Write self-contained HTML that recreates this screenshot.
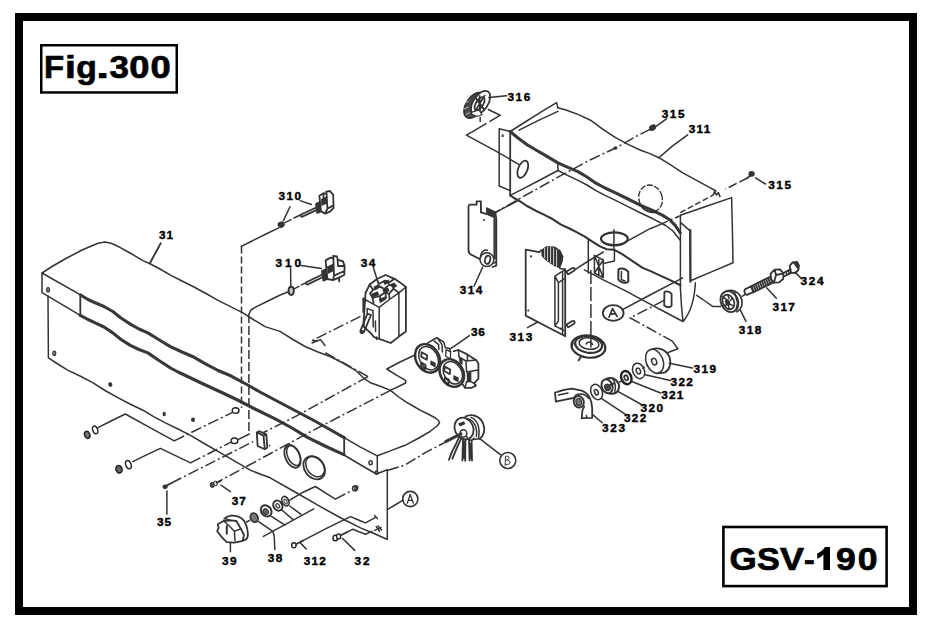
<!DOCTYPE html>
<html><head><meta charset="utf-8"><title>Fig.300 GSV-190</title>
<style>
html,body{margin:0;padding:0;background:#fff;}
body{width:938px;height:630px;overflow:hidden;position:relative;font-family:"Liberation Sans",sans-serif;}
svg{position:absolute;left:0;top:0;display:block;}
text{font-family:"Liberation Sans",sans-serif;font-weight:bold;fill:#000;}
.l{fill:none;stroke:#333;stroke-width:1.5;stroke-linecap:round;stroke-linejoin:round;}
.t{fill:none;stroke:#383838;stroke-width:3.1;stroke-linecap:round;stroke-linejoin:round;}
.m{fill:none;stroke:#333;stroke-width:1.8;stroke-linecap:round;stroke-linejoin:round;}
.d{fill:none;stroke:#333;stroke-width:1.5;stroke-dasharray:7 3;stroke-linecap:butt;}
.dd{fill:none;stroke:#333;stroke-width:1.5;stroke-dasharray:11 3 2 3;stroke-linecap:butt;}
.k{fill:#333;stroke:none;}
.w{fill:#fff;stroke:#333;stroke-width:1.5;}
.n{font-size:11.8px;}
</style></head><body>
<svg width="938" height="630" viewBox="0 0 938 630">
<!-- FRAME -->
<rect x="19" y="17" width="894" height="594" fill="none" stroke="#000" stroke-width="8"/>
<rect x="41.25" y="45.25" width="135.5" height="47.2" fill="#fff" stroke="#000" stroke-width="2.5"/>
<g id="tfig" stroke="#000" stroke-width="0.7">
<text transform="translate(44.02 78.00) scale(1.041 1)" font-size="31.6">F</text>
<text transform="translate(65.12 78.00) scale(1.240 1)" font-size="31.6">i</text>
<text transform="translate(76.14 78.00) scale(1.065 1)" font-size="31.6">g</text>
<text transform="translate(96.18 78.00) scale(1.460 1)" font-size="31.6">.</text>
<text transform="translate(109.40 78.00) scale(1.106 1)" font-size="31.6">3</text>
<text transform="translate(129.35 78.00) scale(1.150 1)" font-size="31.6">0</text>
<text transform="translate(150.45 78.00) scale(1.150 1)" font-size="31.6">0</text>
</g>
<rect x="723.4" y="527" width="163.2" height="59.1" fill="#fff" stroke="#000" stroke-width="2.6"/>
<g id="tgsv" stroke="#000" stroke-width="0.7">
<text transform="translate(729.60 570.00) scale(1.100 1)" font-size="31.8">G</text>
<text transform="translate(757.10 570.00) scale(1.075 1)" font-size="31.8">S</text>
<text transform="translate(780.00 570.00) scale(1.129 1)" font-size="31.8">V</text>
<text transform="translate(803.99 570.00) scale(1.011 1)" font-size="31.8">-</text>
<path d="M830,570 L823.4,570 L823.4,554.6 C821.6,556.6 819.4,558 817.2,558.8 L817.2,553.4 C820.6,552.2 823.6,549.8 824.8,547 L830,547 Z" fill="#000" stroke="none"/>
<text transform="translate(835.88 570.00) scale(1.119 1)" font-size="31.8">9</text>
<text transform="translate(857.78 570.00) scale(1.119 1)" font-size="31.8">0</text>
</g>

<!-- ===== BOX 31 ===== -->
<g id="box31">
<path class="l" d="M42,273 L52,266.5 L65,259 L82,250 L98,243.2 L105,242 L111,243.3 L118,246.3 L130,253 L143,260.6 L150.5,264 L160,269 L170.5,275.2 L182,281 L193,286.5 L206,293.5 L218,300.3 L231,306.8 L243,312.8 L254,320 L265,326.6 L280,331.4 L293,339.5 L305,346.5 L318,352 L330,356.5 L343,363 L355.5,370.3 L363,377.5 L370.5,382.8 L381,386.5 L390.5,390.4 L398,396.5 L405.5,401.6 L413,406 L420.5,410.4 L428,414 L435.5,418 L438.5,420.5 L439.5,423 L437,426 L430,431.5 L418,438.5 L405,445.3 L391,450.6 L377.3,455.8"/>
<path class="m" d="M160.7,243.3 L150,263"/>
<!-- left strip -->
<path class="l" d="M42,273 L42,292.7 L79,314.6 M42,273 L80.5,294.8"/>
<path class="m" d="M80.3,294.8 L80.3,315.2"/>
<path class="l" d="M48,296 L48.4,357.8 L57,363.5 L67.6,370.1 L80,376 L92.7,382.6 L105,390.5 L117.8,397.7 L130,404 L142.9,410.2 L154,416.8 L165.4,422.8 L178,429 L190.5,435.3 L205,444 L220.6,452.9 L236,461.8 L250.7,470.4 L260,474 L270.2,477.8 L295,492 L320.4,506.6 L340,517.5 L360.5,527.9 L374,533.5 L386.9,539.2"/>
<!-- thick waves -->
<path class="t" d="M80.6,295 L88,299.5 L95.2,302.8 L104,306.5 L112.8,311.5 L121,318 L130.3,324.1 L139,329 L147.9,332.9 L159,339.8 L170.4,346.7 L182,352 L193,356.7 L205,363.6 L218.1,370.5 L230.7,375.8 L245,383.5 L260,392 L275,400 L294,410 L313,420 L329,429 L344.2,437.6"/>
<path class="t" d="M80.2,315.3 L88,319.5 L95.2,322.8 L104,327 L112.8,332.9 L121,339.5 L130.3,345.4 L139,349.5 L147.9,352.9 L159,360.5 L170.5,368 L178,372 L185.5,375.5 L198,381.5 L212,388 L225,394 L237.6,400 L256,409.5 L275.2,418.8 L292,428 L307.9,437.6 L326,446.5 L343.8,454.6"/>
<path class="m" d="M344.2,437.6 L344.2,455"/>
<path class="l" d="M344.2,437.6 L360,446.8 L377.3,455.8 L377.3,473.5 M344,455 L360,464.5 L376.4,474 L387.3,469.8 L387.3,539.3"/>
<!-- holes in 31 -->
<ellipse cx="48.1" cy="289.8" rx="1.5" ry="2.3" fill="#888" stroke="#333" stroke-width="1.1"/><ellipse cx="54.3" cy="353.3" rx="1.5" ry="2.3" fill="#888" stroke="#333" stroke-width="1.1"/>
<ellipse class="k" cx="110.3" cy="384.6" rx="2" ry="2.3" transform="rotate(-30 110.3 384.6)"/><ellipse class="k" cx="164.2" cy="414" rx="1.6" ry="2.3"/><ellipse class="k" cx="193" cy="419.8" rx="2" ry="2.3"/>
<ellipse class="l" cx="370.6" cy="462.7" rx="1.6" ry="2"/><ellipse class="l" cx="376.6" cy="472.6" rx="1.3" ry="1.6"/>
<!-- round holes -->
<ellipse class="m" cx="292.5" cy="456.4" rx="7.2" ry="12" transform="rotate(-24 292.5 456.4)"/>
<ellipse class="l" cx="293.6" cy="455.4" rx="6" ry="10.6" transform="rotate(-24 293.6 455.4)"/>
<ellipse class="m" cx="314.2" cy="467.8" rx="9.6" ry="12.6" transform="rotate(-38 314.2 467.8)"/>
<ellipse class="l" cx="315.2" cy="466.6" rx="8.3" ry="11.2" transform="rotate(-38 315.2 466.6)"/>
<!-- bracket -->
<path class="m" d="M256.8,432.4 L263.5,435.6 L264.8,449.3 L257.6,446 Z M256.8,432.4 L259.5,431.2 L266.3,434.4 L263.5,435.6 M266.3,434.4 L267.3,447.6 L264.8,449.3"/>
<circle class="k" cx="269.6" cy="445.6" r="0.9"/>
</g>

<!-- ===== LEFT ASSEMBLY LINES ===== -->
<g id="leftlines">
<!-- dashed verticals -->
<path class="d" d="M241.5,246.5 L241.5,408"/>
<path class="d" d="M248.9,314 L248.9,434" style="stroke-dasharray:9 3"/>
<path class="l" d="M241.3,246.4 L250,242 L265,234.5 L278.8,227.9"/>
<path class="l" d="M248.9,314 L251,310 L255,307.4 L268,301 L280.2,295 L288.5,291.8"/>
<!-- washers upper (310) -->
<ellipse class="k" cx="281.2" cy="224.6" rx="3.6" ry="3.1" transform="rotate(-25 281.2 224.6)"/>
<path class="l" d="M284.9,222.6 L291,219.6 M294,218 L300.3,215"/>
<ellipse cx="291.2" cy="290.8" rx="2.6" ry="4.1" fill="#ccc" stroke="#333" stroke-width="2"/>
<path class="l" d="M294,288.9 L299,286.3 M301.5,284.9 L306,282.7"/>
<!-- dash-dot on top surface from breaker -->
<path class="dd" d="M360.4,316.4 L312.8,340.2"/>
<path class="l" d="M312,343 L320.5,339.6 L325,345.5 M318,341 L312.5,340.6"/>
<path class="dd" d="M325.3,352.7 L368,376.6"/>
<path class="dd" d="M368,376.6 L297.7,415.4 L262.6,433"/>
<path class="dd" d="M390.5,390.4 L312.8,430.5 L280.3,448.2 L219,481.3"/>
<path class="l" d="M414.4,355.2 L400,362 L386.8,369 L396,374.8 L405.6,380.3 L405.6,383 L390.5,390.4"/>
<!-- washers left 1 -->
<ellipse cx="87.2" cy="434.8" rx="2.6" ry="3.6" fill="#777" stroke="#222" stroke-width="1.5" transform="rotate(-20 87.2 434.8)"/>
<ellipse cx="95.2" cy="429.9" rx="2.4" ry="4" fill="#fff" stroke="#222" stroke-width="1.4" transform="rotate(-20 95.2 429.9)"/>
<path class="l" d="M98,427.7 L111,421 L125.3,414 L150,427.6 L174.2,440.8"/>
<path class="dd" d="M174.2,440.8 L232,412.6"/>
<ellipse cx="235.6" cy="410.6" rx="3.4" ry="2.8" fill="#fff" stroke="#222" stroke-width="1.4"/>
<!-- washers left 2 -->
<ellipse cx="119" cy="469.3" rx="3" ry="3.8" fill="#666" stroke="#222" stroke-width="1.6" transform="rotate(-20 119 469.3)"/>
<ellipse cx="128.4" cy="464.7" rx="2.6" ry="4.3" fill="#fff" stroke="#222" stroke-width="1.4" transform="rotate(-20 128.4 464.7)"/>
<path class="l" d="M132.8,461.6 L146,455.2 L160.4,448.4 L175,455.4 L190.5,462.9"/>
<path class="dd" d="M190.5,462.9 L231,442.2"/>
<ellipse cx="234.5" cy="440.8" rx="3.4" ry="2.8" fill="#fff" stroke="#222" stroke-width="1.4"/>
<path class="l" d="M238.5,439.3 L249.3,434 "/>
<!-- 35 -->
<ellipse class="k" cx="165.2" cy="486.8" rx="2.6" ry="2.3"/><path class="m" d="M166.5,485.6 L171.5,483"/>
<path class="dd" d="M171.5,483 L253.2,441.6"/>
<path class="l" d="M166.9,491 L166.9,514.3"/>
<!-- 37 -->
<ellipse cx="212.3" cy="484.9" rx="2.2" ry="2.5" fill="#555" stroke="#222" stroke-width="1"/><ellipse cx="215.6" cy="483.4" rx="1.8" ry="2.3" fill="#fff" stroke="#222" stroke-width="1"/>
<path class="m" d="M216.5,482.8 L220.8,480.6"/>
<path class="l" d="M221,485.2 L230.3,491.6"/>
<!-- A circle left -->
<circle class="m" cx="410.3" cy="499" r="7.6" style="stroke-width:1.6"/>
<path class="l" d="M402.7,500.4 L395,505 L388.1,509.1"/>
<path class="l" d="M407.3,503.2 L410.2,494.4 L413.4,503.2 M408.4,500.4 L412.4,500.4" style="stroke-width:1.3"/>
<!-- plate-to-key dashdot -->
<path class="dd" d="M388,470.3 L405.2,465 L425.3,452.6 L444.6,442.6"/>
<!-- 38 washers -->
<ellipse cx="254.2" cy="517.6" rx="3.7" ry="4.7" fill="#777" stroke="#333" stroke-width="1.7" transform="rotate(-25 254.2 517.6)"/>
<path class="l" d="M246.6,522 L249.6,520.4"/>
<ellipse cx="266.2" cy="510.9" rx="4.9" ry="6" fill="#fff" stroke="#333" stroke-width="2" transform="rotate(-40 266.2 510.9)"/><ellipse cx="265.8" cy="511.6" rx="2.4" ry="3" fill="#666" stroke="#333" stroke-width="1.2" transform="rotate(-40 265.8 511.6)"/>
<ellipse cx="277.8" cy="505.6" rx="4.3" ry="5.3" fill="#fff" stroke="#333" stroke-width="2" transform="rotate(-30 277.8 505.6)"/><ellipse class="l" cx="277.8" cy="505.8" rx="1.6" ry="2.3" transform="rotate(-30 277.8 505.8)" style="stroke-width:1.2"/>
<ellipse cx="285.4" cy="501.2" rx="3.3" ry="5" fill="#fff" stroke="#333" stroke-width="1.7" transform="rotate(-25 285.4 501.2)"/><ellipse class="l" cx="285.6" cy="501.6" rx="1.3" ry="2.6" transform="rotate(-25 285.6 501.6)" style="stroke-width:1"/>
<path class="l" d="M258.6,521.6 L266,526.6 L273,531.6 L274.2,536 L274.8,549.4 M271.4,516.4 L285,525.2 M281.8,510 L293,519.6 M289.8,506 L301,514.4"/>
<path class="l" d="M263.4,536.4 L290,521.8 L313.8,508.8"/>
<path class="l" d="M289.6,500.2 L302,492.8 L315.4,486.5 L325,492.6 L335.4,499.1"/>
<path class="dd" d="M335.4,499.1 L352,490.4"/>
<ellipse class="l" cx="354.8" cy="488.4" rx="2.2" ry="2.4"/><ellipse class="l" cx="356.3" cy="487.8" rx="1.4" ry="2"/>
<!-- 39 knob -->
<path class="m" d="M224.2,518.8 C227,515.6 234,514 240.8,517.8 C245,520.6 247.4,526 247.9,533.8 C248,536.6 247,538.6 245.9,539.5"/>
<path class="m" d="M223.6,521 L217.8,524.2 L218.6,527.6 L217.2,531.2 L219.4,534 L221.6,537 L224.4,539.8 L226.8,542.1 L234.4,542.7 L242.7,540.8 L244,535 L240.8,528.7 L236.4,521 L230.6,520.4 Z"/>
<path class="l" d="M223.6,521 L227.4,524.2 L234.4,531.2 L240.8,528.9 M234.4,531.2 L235,540.8 M242.7,540.8 L245.9,539.5 M226,519 L230.6,520.4"/>
<path class="m" d="M226.8,526.1 L226.8,533.8" style="stroke-width:2"/>
<path class="l" d="M230.4,542.8 L230.4,551.8"/>
<!-- 312 -->
<ellipse cx="293.9" cy="545.3" rx="2.2" ry="2.6" fill="#fff" stroke="#222" stroke-width="1.4"/><path class="m" d="M296,544.2 L303,540.6"/>
<path class="l" d="M303,540.6 L325,529.2 L350.5,516.6 L358,519.8 L365.5,522.9 L376,517.2 M374.6,515.6 L377.4,518.6"/>
<path class="l" d="M300.8,543.4 L306.3,549"/>
<!-- 32 -->
<ellipse cx="335.3" cy="538" rx="2.3" ry="2.8" fill="#fff" stroke="#222" stroke-width="1.4"/><ellipse cx="338.6" cy="536.4" rx="2" ry="2.6" fill="#fff" stroke="#222" stroke-width="1.3"/><path class="m" d="M340.6,535.4 L347,532.2"/>
<path class="l" d="M347,532.2 L353,529.2 L359,531.8 L365.5,534.2 L372,531.4 M374.6,530.4 L381,527.6 M376.2,526.6 L379.5,531.2 M378,526 L381.5,530"/>
<path class="l" d="M342.3,538.2 L354.8,550.4"/>
</g>

<!-- ===== 310 SWITCHES ===== -->
<g id="sw310">
<!-- upper -->
<path class="m" d="M301.6,214.2 L316.8,207.2 M302.4,216.6 L317.4,209.6 M301.6,214.2 C300,215 300.8,217.2 302.4,216.6"/>
<path class="m" d="M316,204 L320,201.8 L321,211.4 L317.2,213 Z M320,201.8 L319.4,195.8 L323.4,193.2 L326.6,194 L326.2,191.6 L330,191 L333.2,194.8 L333.6,207.8 L330,211.6 L325,213.6 L321,211.4 M326.6,194 L327.4,208.6 L325,213.6 M327.4,208.6 L333.6,205.4 M323.4,193.2 L323.6,198.6 L327,197.6"/>
<path class="k" d="M316,204 L320,201.8 L321,211.4 L317.2,213 Z M321,199 L326.8,196.4 L327.2,203.6 L321.4,206 Z"/>
<path class="l" d="M300.1,200.6 L311.3,204.5 M290,206.8 L283.4,220.6"/>
<!-- lower -->
<path class="m" d="M306.8,282 L323,274.2 M307.8,284.4 L323.6,276.8 M306.8,282 C305.2,282.8 306,285.2 307.8,284.4"/>
<path class="m" d="M322,271 L326.4,269 L327.4,279 L323.4,280.6 Z M326.4,269 L325.6,260.4 L330.6,257.6 L333.4,258.6 L333.2,256 L337,256.4 L337.6,259.6 L343,261.4 L344.6,266 L344.4,274.8 L339,277.6 L333,280.2 L327.4,279 M333.4,258.6 L334,275.6 L333,280.2 M334,275.6 L344.4,271 M337.6,259.6 L338,266 L344.6,266 M339,277.6 L339.2,281.4"/>
<path class="k" d="M322,271 L326.4,269 L327.4,279 L323.4,280.6 Z M327,266.6 L333.6,263.6 L334,271 L327.6,274 Z"/>
<path class="l" d="M301.1,265.6 L321.4,268.6 M290.6,268 L290.8,286.6"/>
</g>
<!-- ===== 34 BREAKER ===== -->
<g id="p34">
<path class="m" d="M363.3,298.5 L363.3,312 M363.6,322 L364,327 L371,333.4 L374.1,337.2 L379.2,338.8 L390.7,343 L398.9,336.6 L405.9,331.5 L405.9,287 L400,282.4 L394.5,278.8 L385.6,275 L377,279 L369.7,284.5 L365.5,293 Z"/>
<path class="l" d="M398.9,292.8 L398.9,336.6 M379.2,307.4 L379.2,338.8 M363.3,298.5 L372,303.4 L379.2,307.4 L390,299 L398.9,292.8 L405.9,287"/>
<!-- top details -->
<path class="m" d="M369.7,284.5 L373,290 L370,293.6 L372.6,298 L380,296 L385.4,292 L389,294 L393.4,288.6 L398.9,292.8 M373,290 L379.6,286.4 L384.4,289 L389.4,284.6 L394.4,286.6 M377,279 L378.6,284 L385,280.6 L388.4,283 L394.5,278.8 M372.6,298 L373.6,303 M380,296 L380.6,301.6 L386,298 L385.4,292 M389,294 L389.6,299"/>
<path class="k" d="M373.6,286.8 L379,284 L380.4,287.2 L375,290.4 Z M383,281.6 L388.4,279.4 L390,282.4 L384.6,285 Z M371.4,293.8 L377.6,291.2 L379.4,295 L373,297.4 Z M382.4,289.8 L388,287.4 L389.6,291 L384,293.4 Z M389.6,284.6 L394,282.6 L397.4,286 L393,288.4 Z M379,299 L385,296.4 L385.4,300 L380,303 Z"/>
<!-- toggle -->
<path class="l" d="M367.2,308.6 L373,310.6 L373.2,327 M367.2,308.6 L367.2,313"/>
<path class="m" d="M367.4,313.6 L371,315 L364,331.8 L360.6,330.4 Z M360.6,330.4 C359.6,333 363,334.4 364,331.8"/>
<path class="l" d="M375.4,321 L375.6,331.6 M376.6,337 L376.6,339.6"/>
<path class="l" d="M373.5,268 L377.3,280"/>
</g>
<!-- ===== 36 OUTLETS ===== -->
<g id="p36">
<!-- back body -->
<path class="l" d="M427,343.4 L432.8,339.8 L437.2,337.8 L443.8,342.2 L445.4,347.6 L449.4,348.6 L450.6,352 M437.2,337.8 L442,344.6 L442.4,352 M432.8,339.8 L438.6,344.6 L438.8,349.6"/>
<path class="m" d="M453.8,351.2 L458.4,350 L467.2,354.4 L476,360 L478.4,363.4 L478.4,378.8 L474,383.2 L476,385.6 L471.6,387.8 L465,387.8 L462.4,384"/>
<path class="l" d="M458.4,350 L459,357 L466,361 L476,360 M466,361 L466.6,372 L478.4,370 M467.2,354.4 L467.6,360.6 M470.6,372 L470.6,381.6 L474,383.2 M465,387.8 L466.6,381.6 L470.6,381.6 M441.6,365 L446,361 M439.4,371 L441.4,374.6"/>
<path d="M446,349.6 L450.6,352 L450.4,358.8 L445.6,356.2 Z" fill="#fff" stroke="#333" stroke-width="1.3"/>
<path class="k" d="M466.6,372.6 L470.4,372 L470.6,381.6 L467,382.6 Z M459,357.4 L462.6,359.4 L462.6,365 L459.4,363 Z"/>
<!-- faces -->
<ellipse cx="427.6" cy="358.4" rx="11.6" ry="15" fill="#fff" stroke="#333" stroke-width="2.4" transform="rotate(-30 427.6 358.4)"/>
<ellipse class="l" cx="428.6" cy="358.2" rx="9" ry="12.4" transform="rotate(-30 428.6 358.2)"/>
<path class="m" d="M421.6,352.2 L427.2,355.2 L426.8,359.8 L421.2,356.6 Z M421.4,362.6 L425.6,365 L425.2,369.2 L421,366.6 Z"/>
<path d="M430.6,360.2 L435.8,363 L435.4,367.8 L430.2,364.6 Z" class="k"/>
<ellipse cx="451.8" cy="373" rx="11.4" ry="14.6" fill="#fff" stroke="#333" stroke-width="2.4" transform="rotate(-30 451.8 373)"/>
<ellipse class="l" cx="452.8" cy="372.8" rx="8.8" ry="12" transform="rotate(-30 452.8 372.8)"/>
<path class="m" d="M444.8,366.6 L450.2,369.6 L449.8,374.2 L444.4,371 Z M445,377.4 L449,379.8 L448.6,384 L444.6,381.4 Z"/>
<path d="M453.6,375 L458.8,377.8 L458.4,382.6 L453.2,379.4 Z" class="k"/>
<path class="l" d="M469.5,335.6 L458,343.6 L449.8,349.2"/>
</g>
<!-- ===== B KEY SWITCH ===== -->
<g id="keysw">
<path class="m" d="M465.4,416.6 C472,413.2 480.6,416.4 483.4,424.2 C485.4,430.2 483.6,436.2 479.6,438.8"/>
<ellipse class="m" cx="464" cy="428.6" rx="9.2" ry="11.2" transform="rotate(-25 464 428.6)"/>
<path class="l" d="M468,418.6 C474.4,420.6 477.6,428 476.4,436.4 M471,417.4 C477.6,420 480.2,428 478.6,437.4 M472.6,439.6 L479.6,438.8"/>
<ellipse class="l" cx="463.4" cy="433.4" rx="3.4" ry="3.6"/>
<path class="k" d="M458,423.6 L464,421.2 L465.4,424 L460,426.4 Z"/>
<!-- shaft -->
<path class="t" d="M445.6,441.6 L461,433.8" style="stroke-width:3"/>
<!-- keys -->
<path class="m" d="M459.4,436.4 L456,444 L451.6,452.6 L449,459.8 M461.6,437.6 L457,447.6 L452.4,458.6"/>
<path class="m" d="M463,438.6 L462.4,460.4 M465.4,439.4 L465.2,460.8 M464.2,442 L464,458"/>
<path class="m" d="M469,440 L469.6,460.4 M471.6,440.6 L472,460.6 M470.4,444 L470.6,458"/>
<path class="l" d="M466.4,436 C468,440.4 472,441.6 474,438"/>
<!-- B circle -->
<circle class="m" cx="507.8" cy="460.5" r="8" style="stroke-width:1.6"/>
<path class="l" d="M479.8,438.6 L490,446.6 L500.4,454.7"/>
<path class="l" d="M505.2,465.6 L505.4,456.4 C509.6,455 510.6,459.4 506.4,460 C511.6,460.4 511,465.4 506,464.4" style="stroke-width:1"/>
</g>

<!-- ===== BOX 311 ===== -->
<g id="box311">
<!-- left flange & end -->
<path class="l" d="M499.2,128.8 L499.2,186 L510.2,190.6 M499.2,128.8 L510.2,131.5"/>
<path class="m" d="M510.2,131.5 L510.2,195.4"/>
<rect class="k" x="501.6" y="134.4" width="2" height="2.6"/>
<!-- flap -->
<path class="l" d="M510.2,131.5 L522,124 L540,112.6 L556.6,102.6 L557.9,107.8 M519,130.2 L538,120.6 L557.9,111.4"/>
<!-- back edge -->
<path class="l" d="M557.9,107.8 L566,110 L578,114.4 L590.5,120.2 L603,129.4 L615.6,137.7 L628,144.4 L640.7,150.3 L650,153.6 L658.9,157.7 L671,165.2 L682.8,172.8 L697,180.6 L710.4,187.8 L716,191"/>
<!-- thick front wave -->
<path class="t" d="M510.2,131.5 L518,138 L527.8,145.2 L536,150 L545.3,155.3 L557.9,162.8 L568,167.4 L578,171.6 L587,177 L595.5,182.9 L605,188 L615.6,192.9 L628,199 L640.7,205.4 L652,210.2 L662.7,215.4 L670,220 L675.2,225.4 L680.3,233"/>
<path class="l" d="M557.9,162.8 L557.9,170.5 L568,175.6 L578,180.4 L587,185 L595.5,190.4 L605,195.4 L615.6,200.4 L628,206.6 L640.7,213 L653,218.8 L665.7,225.5 L673,231 L680,240"/>
<path class="l" d="M510.2,195.4 L522,189.4 L540,180 L557.9,170.5"/>
<ellipse class="m" cx="522.8" cy="169.2" rx="4.6" ry="9" transform="rotate(22 522.8 169.2)"/>
<!-- bottom front edge -->
<path class="m" style="stroke-width:2.1" d="M510.2,195.4 L514,198 L518.6,200.4 L527,206 L535.7,210.7 L544,214.6 L552.9,219.3 L561,224.6 L570,228.8 L577,232.4 L584.4,236.4 L592,241.4 L600,246.4 L606.7,249.2 L614.4,249.8 L622.2,254.2 L632.2,260.9 L642.2,267.6 L650,270.9 L660.3,275.6 L670.6,280.4 L680.4,285.3"/>
<!-- dashed ellipse hole -->
<ellipse cx="650.6" cy="198.4" rx="11.6" ry="13.6" fill="none" stroke="#2b2b2b" stroke-width="1.3" stroke-dasharray="6 1.5" transform="rotate(-20 650.6 198.4)"/>
<path class="m" d="M641,205 C643,210 650,213.6 656,211.8"/>
<!-- right end face -->
<path class="l" d="M680.4,215.3 L705,206.8 L731.6,197.6 L732.4,230 L733,262.7 L712,271.6 L691.7,280.3"/>
<path class="l" d="M680.4,215.3 L680.4,287.8 M680.4,222.4 L689.6,230.4"/>
<path class="t" d="M690.2,230.2 L690.4,281.5" style="stroke-width:2.4"/>
<path class="d" d="M680.2,212.6 L713,195.2" style="stroke-dasharray:6 2.5"/>
<path class="l" d="M713,195 L714.6,191.6 L716.4,195 L718.4,192.6 L720,196.6"/>
<!-- skirt -->
<path class="l" d="M680.4,287.8 L681.4,305 L682.9,320.6 M695.4,282.8 C694.6,298 691,312 683.2,321.4"/>
<!-- lower front face -->
<path class="l" d="M588.3,238.7 L588.3,273.1"/>
<path class="l" d="M584.4,269.8 L603.3,279.8 L625.6,290.9 L647.8,302.9 L665,312 L682.9,321.5"/>
<!-- tube -->
<ellipse class="m" cx="614.4" cy="238.7" rx="13.4" ry="6.3" style="stroke-width:2.1"/>
<path class="l" d="M602.6,241.6 C606,247 622,247.4 626.6,241.4"/>
<path class="l" d="M613.9,229.8 L613.9,248.6 M614.4,250 L614.4,261 L604.4,263.2"/>
<path class="l" d="M628.6,240.4 L650,228.7 L657.7,225.6"/>
<path class="dd" d="M657.7,225.6 L679.6,216"/>
<!-- rect openings -->
<path class="l" d="M594.4,255.3 L603.3,260 L603.3,277.6 L594.4,273 Z M594.4,255.3 L603.3,277.6 M603.3,260 L594.4,273 M598.8,257.6 L598.8,275.4"/>
<path class="m" style="stroke-width:2" d="M618.4,270 C619,267.6 625,267.8 628.2,271.6 L628.3,281.6 C626,284 620,282.4 618.3,279.6 Z"/>
<path class="l" d="M621.4,271.6 L621.4,279.6 L625,281"/>
<path class="m" d="M664.4,292 C666,290.6 670,291.6 671.6,294 L671.6,305.8 C670,308 666,307.6 664.2,305.4 Z"/>
<!-- dashed vertical down to cap -->
<path class="d" d="M590.9,270 L590.9,338" style="stroke-dasharray:14 3"/>
<!-- A circle -->
<ellipse class="m" cx="613.2" cy="313" rx="10.4" ry="7.8"/>
<path class="m" d="M609,317 L612.6,308.6 L617.2,316.6 M610.4,314.2 L615.6,313.6" style="stroke-width:1.7"/>
<path class="l" d="M623,309.4 L650,295 L682.6,277.8"/>
<!-- dashdot to 319 -->
<path class="dd" d="M664.1,300.4 L630.2,317.9 L655,331.6 L672.2,341.1"/>
<path class="l" d="M672.2,341.1 L677.9,348.8 L667.4,352.7"/>
<!-- 315 top and dashdot -->
<path class="dd" d="M490.2,215.5 L520,198.4 L557.9,177.2 L590,160 L615.6,148 L635,137 L650,129.4"/>
<ellipse class="k" cx="615.4" cy="148" rx="2" ry="1.8"/>
<ellipse class="k" cx="652.6" cy="127.6" rx="3.6" ry="3" transform="rotate(-30 652.6 127.6)"/><path class="m" d="M650,129.6 L654.6,125.4"/>
<path class="l" d="M656.4,126.2 L666.5,118.9"/>
<path class="l" d="M658.9,157.7 L672,146.4 L687.6,134.8"/>
<!-- 315 right -->
<ellipse class="k" cx="751.6" cy="173.8" rx="3.2" ry="2.9"/><path class="m" d="M747.4,178 L751,175"/>
<path class="d" d="M747.4,178 L725.4,189.1" style="stroke-dasharray:9 3"/>
<path class="l" d="M755.5,177.8 L765.5,184"/>
</g>
<!-- ===== 316 grommet ===== -->
<g id="p316">
<ellipse cx="474.4" cy="105.4" rx="8.4" ry="14.2" fill="#4a4a4a" stroke="#333" stroke-width="1.6" transform="rotate(33 474.4 105.4)"/>
<path d="M466,97 L470,95 M464.4,103 L468.6,101 M464,109 L468.4,107 M465.6,114.6 L470,112.4" stroke="#ddd" stroke-width="0.8" fill="none"/>
<ellipse cx="480.6" cy="102.8" rx="7.4" ry="13.4" fill="#fff" stroke="#333" stroke-width="1.8" transform="rotate(33 480.6 102.8)"/>
<ellipse class="m" cx="479.6" cy="103.6" rx="3.6" ry="7.4" transform="rotate(33 479.6 103.6)"/>
<path class="m" d="M475.4,97.6 L484,109.4 M484.6,95.6 L475,111.4 M479.6,96 L480,111"/>
<path d="M470.6,112.6 C473,116.4 478,117.4 482,114.6 L479,110 Z" fill="#fff" stroke="#333" stroke-width="1.2"/>
<path class="l" d="M488.9,97.6 L506.5,95.8"/>
<path class="l" d="M488.3,109.5 L500.2,115.2 L490,121.4 M486,123.6 L476,129.6 L466.4,135.2 L495,150.6 L519.6,164.8 M480.2,117.6 L480.2,121.4"/>
</g>
<!-- ===== 314 ===== -->
<g id="p314">
<path class="m" d="M468.5,207 C468.5,205 469.6,204.6 471,204.7 L476.6,204.7 L476.6,201.3 L480.9,201.3 L480.9,212.4 L486.9,214.2 L486.9,208.2 L495.4,212.4 L496.3,219.3 L496.3,265.6 L492.6,267 M468.5,207 L468.5,250.6 C468.5,253 469.6,254 471.4,254.8 L479.6,259"/>
<path class="t" d="M494.6,219 L494.6,258" style="stroke-width:2.4"/>
<path class="k" d="M487.4,209 L494.8,212.6 L495,218.6 L487.4,215.2 Z"/>
<circle class="k" cx="484" cy="220" r="1"/>
<circle class="w" cx="486.9" cy="259.6" r="6.9" style="stroke-width:1.5"/>
<ellipse class="m" cx="487.6" cy="259.8" rx="2.6" ry="4.2" transform="rotate(15 487.6 259.8)"/>
<path class="l" d="M480.6,256 C481,252 484,249.6 487.4,250.2 M492.6,263.6 L496,262"/>
<path class="l" d="M482.6,267.3 L474,286.2"/>
<path class="l" d="M495.4,212.4 L507,206.4 L518.6,200.4"/>
</g>
<!-- ===== 313 ===== -->
<g id="p313">
<path class="m" d="M525.7,249.6 L539.4,252.1 M525.7,249.6 L525.7,315.6 L545,325.8 L563.5,335.3 L565.2,336.2 L565.2,269.3"/>
<path class="l" d="M554.9,276.2 L554.9,325.9 L563.6,330.4 M554.9,276.2 L565,269.6 M554.9,276.2 L558.4,282.6 L558.4,321 L554.9,325.9 M558.4,282.6 L565,278.4 M562.6,272 L562.6,334"/>
<!-- coil -->
<path class="k" d="M541.2,250 L546,246.2 L555,246.6 L560.6,250.4 L563.4,256.6 L562.6,262 L560,268.6 L554,266 L546,260.6 L541.6,256 Z"/>
<path d="M544.6,248 L544.6,258 M547.6,247 L547.6,261 M550.6,247 L550.6,263 M553.6,247.6 L553.6,265 M556.6,249.6 L556.6,266.6" stroke="#fff" stroke-width="0.8" fill="none"/>
<path class="l" d="M539.4,252.1 L541.2,250 M560,268.6 L565.2,269.3"/>
<!-- hooks -->
<path class="m" d="M566.6,271.6 L572.4,268 C574.6,267.4 575.4,269.6 574,270.8 L568,274.4 Z"/>
<path class="m" d="M566.6,324.6 L572.4,321 C574.6,320.4 575.4,322.6 574,323.8 L568,327.4 Z"/>
<circle class="k" cx="530.9" cy="256.4" r="1.1"/><circle class="k" cx="528.3" cy="310.5" r="1.1"/><circle class="k" cx="560.9" cy="328.5" r="1"/>
<path class="l" d="M527.4,327.6 L536.9,322.5"/>
<path class="l" d="M575,269.6 L590,260 L603.3,252"/>
</g>

<!-- ===== 318 / 317 / 324 ===== -->
<g id="p318">
<path class="l" d="M696.7,295.3 L705,301 L713,306.6 L720.5,306.6"/>
<ellipse class="m" cx="729.4" cy="301.6" rx="8.6" ry="10.8" transform="rotate(-25 729.4 301.6)"/>
<path class="m" d="M726,291.4 C732,288.6 739.6,292 741.6,299 C743,304.6 741,309.6 737,311.8"/>
<ellipse class="m" cx="728.4" cy="302" rx="5.6" ry="7.6" transform="rotate(-25 728.4 302)"/>
<ellipse class="k" cx="727.6" cy="302.4" rx="2.4" ry="3.6" transform="rotate(-25 727.6 302.4)"/>
<path class="l" d="M722.6,297 L726,299 M723,305.6 L726.4,305 M728,295.6 L729,298.6 M732.4,298 L730.4,300.4 M733,305.6 L730.6,304.6 M729.4,309 L728.6,306.4 M734.6,292.6 L737.6,303 L736,310"/>
<path class="l" d="M740.3,310.2 L746,321.3 M742.4,296.2 L745,294.6"/>
<!-- 317 -->
<path class="m" d="M745.6,289 L751,286.4 M747.6,294.6 L753.2,292 M745.6,289 C743.2,290.2 745,295.8 747.6,294.6 M751,286.4 L753.2,292"/>
<path class="m" d="M751,286.2 L770.6,276.6 M753.2,292.4 L773,282.6"/>
<path d="M751.6,286.4 L753.9,292.2 M753.7,285.3 L756.0,291.1 M755.7,284.3 L758.0,290.1 M757.8,283.2 L760.1,289.0 M759.9,282.2 L762.2,288.0 M761.9,281.1 L764.2,286.9 M764.0,280.1 L766.3,285.9 M766.1,279.0 L768.4,284.8 M768.1,278.0 L770.4,283.8 M770.2,276.9 L772.5,282.7" fill="none" stroke="#333" stroke-width="1.8"/>
<path class="m" d="M770.6,273.6 L774.6,269.6 L780,269.4 L783.4,273.4 L783.2,279 L779,282.4 L774,282.6 L770.8,279.2 Z M774.6,269.6 L776,275 L774,282.6 M776,275 L783.4,273.4"/>
<path class="l" d="M766.9,287.9 L776.3,298.2"/>
<!-- 324 -->
<path class="m" d="M783.6,273 L790.6,269.4 M784.4,276.2 L791.4,272.6"/>
<path class="m" d="M789.6,266 L792.6,262.4 L797,262 L799,265.4 L798.4,270 L795,273 L791,272.6 Z"/>
<path class="k" d="M792.6,262.4 L797,262 L799,265.4 L798.4,270 L795.6,266.4 Z"/>
<path class="l" d="M786,271.4 L787,275 M788.4,270.2 L789.4,273.8"/>
<path class="l" d="M795.2,272.4 L801.2,278.4"/>
</g>
<!-- ===== washers 319-323 ===== -->
<g id="washers">
<!-- 319 -->
<path class="m" d="M652,349.4 C658,346.6 666.6,349.6 669.6,357.4 C671.6,363.6 669.6,370 664.6,372.6 L656.4,373.4"/>
<ellipse class="w" cx="654.6" cy="361.2" rx="8.4" ry="12.4" transform="rotate(-22 654.6 361.2)" style="stroke-width:1.5"/>
<ellipse class="l" cx="654.2" cy="361.6" rx="2.4" ry="3.4" transform="rotate(-22 654.2 361.6)"/>
<path class="l" d="M669.3,363.2 L692.3,368"/>
<!-- 322 upper -->
<ellipse class="w" cx="638.6" cy="370.9" rx="5.8" ry="8" transform="rotate(-22 638.6 370.9)" style="stroke-width:1.5"/>
<ellipse class="l" cx="638.4" cy="371" rx="2" ry="3" transform="rotate(-22 638.4 371)"/>
<path class="l" d="M645.3,374.7 L670.3,380.5"/>
<path class="dd" d="M642,368.4 L648,365.4" style="stroke-dasharray:3 2"/>
<!-- 321 -->
<ellipse cx="626.3" cy="377.6" rx="5" ry="6.8" fill="#fff" stroke="#222" stroke-width="2.4" transform="rotate(-22 626.3 377.6)"/>
<ellipse class="m" cx="626.2" cy="377.8" rx="1.8" ry="2.6" transform="rotate(-22 626.2 377.8)"/>
<path class="l" d="M631.8,381.5 L660.6,393"/>
<!-- 320 nut -->
<path class="m" d="M606.6,378.8 C610,377.6 613.6,378.2 615.6,379.8 C618,382 619.4,384.6 619.1,387.2 C618.8,390 617.6,391.6 616.4,392.6 C614,394 611.6,394 609.5,393.5" style="stroke-width:2"/>
<path class="l" d="M612.6,378.6 C615.4,382 616.4,388 614.4,393.2"/>
<ellipse cx="607.1" cy="386.3" rx="5.3" ry="7.2" fill="#fff" stroke="#333" stroke-width="2" transform="rotate(-22 607.1 386.3)"/>
<ellipse cx="607.5" cy="387.4" rx="2.8" ry="3.4" fill="#444" stroke="#333" stroke-width="1" transform="rotate(-22 607.5 387.4)"/>
<path class="m" d="M609.6,385.4 L613.6,383.4" style="stroke-width:2.2"/>
<path class="l" d="M617.4,391.1 L641.4,404.5"/>
<path class="l" d="M619.6,382 L623,380.4"/>
<!-- 322 lower -->
<ellipse class="w" cx="596.6" cy="392" rx="5.6" ry="8" transform="rotate(-22 596.6 392)" style="stroke-width:1.5"/>
<ellipse class="l" cx="596.4" cy="392.2" rx="1.8" ry="2.8" transform="rotate(-22 596.4 392.2)"/>
<path class="l" d="M602.1,398.8 L625.1,414.1"/>
<!-- 323 elbow -->
<path class="m" d="M556.7,392.1 L564,389.8 L572.1,388.7 L581.7,390.6 C586,392 589.6,396 591.3,401.7 L592.2,408.4 L592.2,417.8 L581.7,418.2 L582.4,410.3 L584.2,406.4"/>
<path class="m" d="M555,392.4 L555.8,401.7 L565,399.6 L573.4,398"/>
<path class="l" d="M558.4,395 L568,393 M574,397.8 C575.6,392.8 585,392.2 588.4,398.4 M586.6,418 L586.4,415.4"/>
<ellipse cx="578.8" cy="401.8" rx="5" ry="5.8" fill="#fff" stroke="#333" stroke-width="1.9" transform="rotate(-15 578.8 401.8)"/>
<ellipse cx="578.8" cy="402" rx="2.8" ry="3.6" fill="#777" stroke="#333" stroke-width="1.2" transform="rotate(-15 578.8 402)"/>
<path class="l" d="M593.2,415.1 L602.3,422.8"/>
</g>
<!-- ===== cap under 313 ===== -->
<g id="cap">
<ellipse class="m" cx="588.4" cy="346.6" rx="17" ry="11" transform="rotate(8 588.4 346.6)" style="stroke-width:2.2"/>
<ellipse class="m" cx="588.6" cy="344.6" rx="13.6" ry="8.2" transform="rotate(8 588.6 344.6)" style="stroke-width:2.2"/>
<ellipse class="l" cx="589" cy="343.6" rx="10" ry="5.6" transform="rotate(8 589 343.6)"/>
<path class="l" d="M573,343 L571.6,348 M605,346 L605.4,351 M586,344 C588,341 592,341.6 592.6,344.6 M590.9,338 L590.9,347"/>
<path class="m" d="M581,356.6 L578.6,360.4"/>
</g>
<!--PARTS-->
<g id="labels" class="n" stroke="#000" stroke-width="0.4">
<text x="158.9" y="238.8" textLength="14.1" lengthAdjust="spacing">31</text>
<text x="278.5" y="200.0" textLength="22.6" lengthAdjust="spacing">310</text>
<text x="275.4" y="267.1" textLength="25.7" lengthAdjust="spacing">310</text>
<text x="360.8" y="267.1" textLength="14.5" lengthAdjust="spacing">34</text>
<text x="470.9" y="336.2" textLength="14.0" lengthAdjust="spacing">36</text>
<text x="459.7" y="294.0" textLength="22.6" lengthAdjust="spacing">314</text>
<text x="509.6" y="340.6" textLength="22.6" lengthAdjust="spacing">313</text>
<text x="507.4" y="101.4" textLength="22.9" lengthAdjust="spacing">316</text>
<text x="661.7" y="118.1" textLength="22.8" lengthAdjust="spacing">315</text>
<text x="688.7" y="133.1" textLength="21.7" lengthAdjust="spacing">311</text>
<text x="768.2" y="188.8" textLength="22.9" lengthAdjust="spacing">315</text>
<text x="800.5" y="284.8" textLength="23.0" lengthAdjust="spacing">324</text>
<text x="772.6" y="311.0" textLength="22.2" lengthAdjust="spacing">317</text>
<text x="738.8" y="333.7" textLength="22.4" lengthAdjust="spacing">318</text>
<text x="693.4" y="372.8" textLength="22.6" lengthAdjust="spacing">319</text>
<text x="670.5" y="385.9" textLength="22.4" lengthAdjust="spacing">322</text>
<text x="661.3" y="398.8" textLength="22.0" lengthAdjust="spacing">321</text>
<text x="640.6" y="411.6" textLength="22.4" lengthAdjust="spacing">320</text>
<text x="623.9" y="421.8" textLength="22.3" lengthAdjust="spacing">322</text>
<text x="602.1" y="432.0" textLength="23.0" lengthAdjust="spacing">323</text>
<text x="156.9" y="526.0" textLength="14.1" lengthAdjust="spacing">35</text>
<text x="231.7" y="504.6" textLength="14.2" lengthAdjust="spacing">37</text>
<text x="222.0" y="565.1" textLength="14.5" lengthAdjust="spacing">39</text>
<text x="267.7" y="561.5" textLength="14.5" lengthAdjust="spacing">38</text>
<text x="303.8" y="565.1" textLength="21.9" lengthAdjust="spacing">312</text>
<text x="354.5" y="565.1" textLength="15.0" lengthAdjust="spacing">32</text>
</g>
<!--LABELS-->
</svg>
</body></html>
